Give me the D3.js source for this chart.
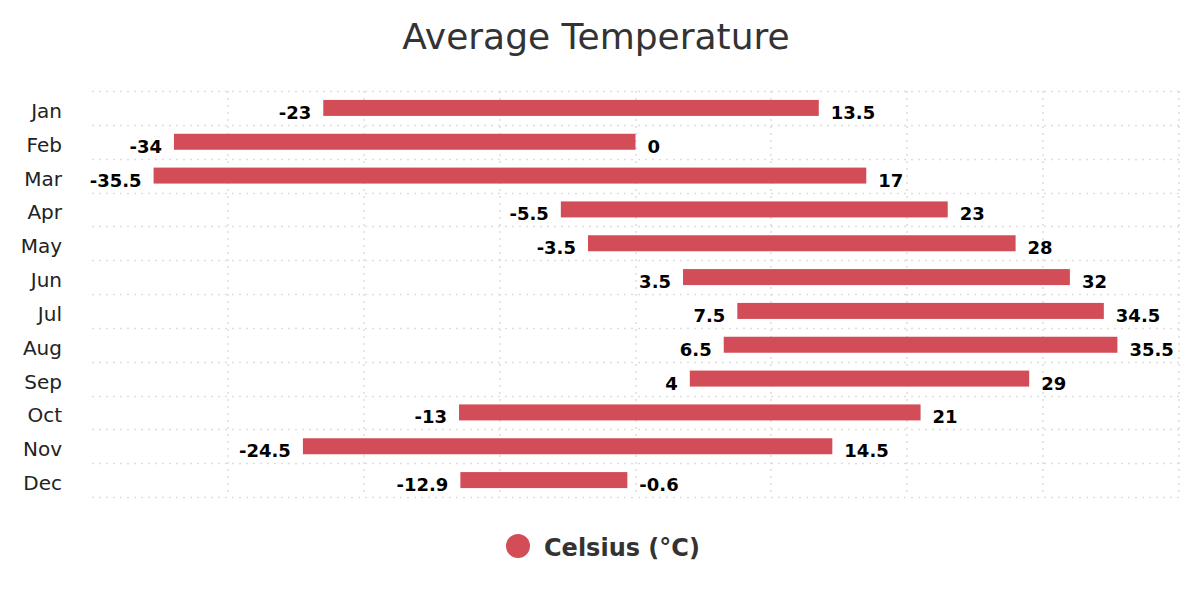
<!DOCTYPE html>
<html><head><meta charset="utf-8">
<script src="https://cdn.jsdelivr.net/npm/d3@7/dist/d3.min.js"></script>
<style>body{margin:0;background:#fff;font-family:"DejaVu Sans",sans-serif}</style>
</head><body><svg id="c" width="1200" height="600" font-family="DejaVu Sans"></svg>
<script>
const months = ["Jan","Feb","Mar","Apr","May","Jun","Jul","Aug","Sep","Oct","Nov","Dec"];
const minTemps = [-23,-34,-35.5,-5.5,-3.5,3.5,7.5,6.5,4,-13,-24.5,-12.9];
const maxTemps = [13.5,0,17,23,28,32,34.5,35.5,29,21,14.5,-0.6];
const xTicks = [-30,-20,-10,0,10,20,30,40];
const seriesName = "Celsius (°C)";
const color = "#d24d57";

const svg = d3.select("#c");
const x = d3.scaleLinear().domain([-40,40]).range([92.5,1178.5]);
const band = d3.scaleBand().domain(months).range([91,497]);

svg.append("text").attr("x",596).attr("y",49).attr("text-anchor","middle")
  .attr("font-size",36).attr("fill","#333").text("Average Temperature");

const grid = svg.append("g").attr("stroke","#ddd").attr("stroke-width",1.5).attr("stroke-dasharray","2,5");
grid.selectAll("line.v").data(xTicks).join("line")
  .attr("x1",d=>Math.round(x(d))).attr("x2",d=>Math.round(x(d))).attr("y1",91).attr("y2",497);
const hLines = months.map(m=>band(m)).concat([497]);
grid.selectAll("line.h").data(hLines).join("line")
  .attr("x1",92).attr("x2",1181).attr("y1",d=>Math.round(d)+0.5).attr("y2",d=>Math.round(d)+0.5);

const yAxis = svg.append("g").attr("transform","translate(62,3)")
  .call(d3.axisLeft(band).tickSize(0).tickPadding(0));
yAxis.select(".domain").remove();
yAxis.selectAll("text").attr("font-size",20).attr("fill","#222").attr("font-family","DejaVu Sans").attr("dy","0.35em");

const data = months.map((m,i)=>({m,lo:minTemps[i],hi:maxTemps[i]}));
svg.append("g").selectAll("rect").data(data).join("rect")
  .attr("x",d=>x(d.lo)).attr("width",d=>x(d.hi)-x(d.lo))
  .attr("y",d=>band(d.m)+band.bandwidth()/2-8).attr("height",16).attr("fill",color);

const lab = svg.append("g").attr("font-size",18).attr("font-weight","bold").attr("fill","#000");
lab.selectAll("text.lo").data(data).join("text")
  .attr("x",d=>x(d.lo)-12).attr("y",d=>band(d.m)+band.bandwidth()/2+11)
  .attr("text-anchor","end").text(d=>d.lo);
lab.selectAll("text.hi").data(data).join("text")
  .attr("x",d=>x(d.hi)+12).attr("y",d=>band(d.m)+band.bandwidth()/2+11)
  .attr("text-anchor","start").text(d=>d.hi);

svg.append("circle").attr("cx",518).attr("cy",546).attr("r",12).attr("fill",color);
svg.append("text").attr("x",544).attr("y",556).attr("font-size",24).attr("font-weight","bold")
  .attr("fill","#333").text(seriesName);
</script></body></html>
